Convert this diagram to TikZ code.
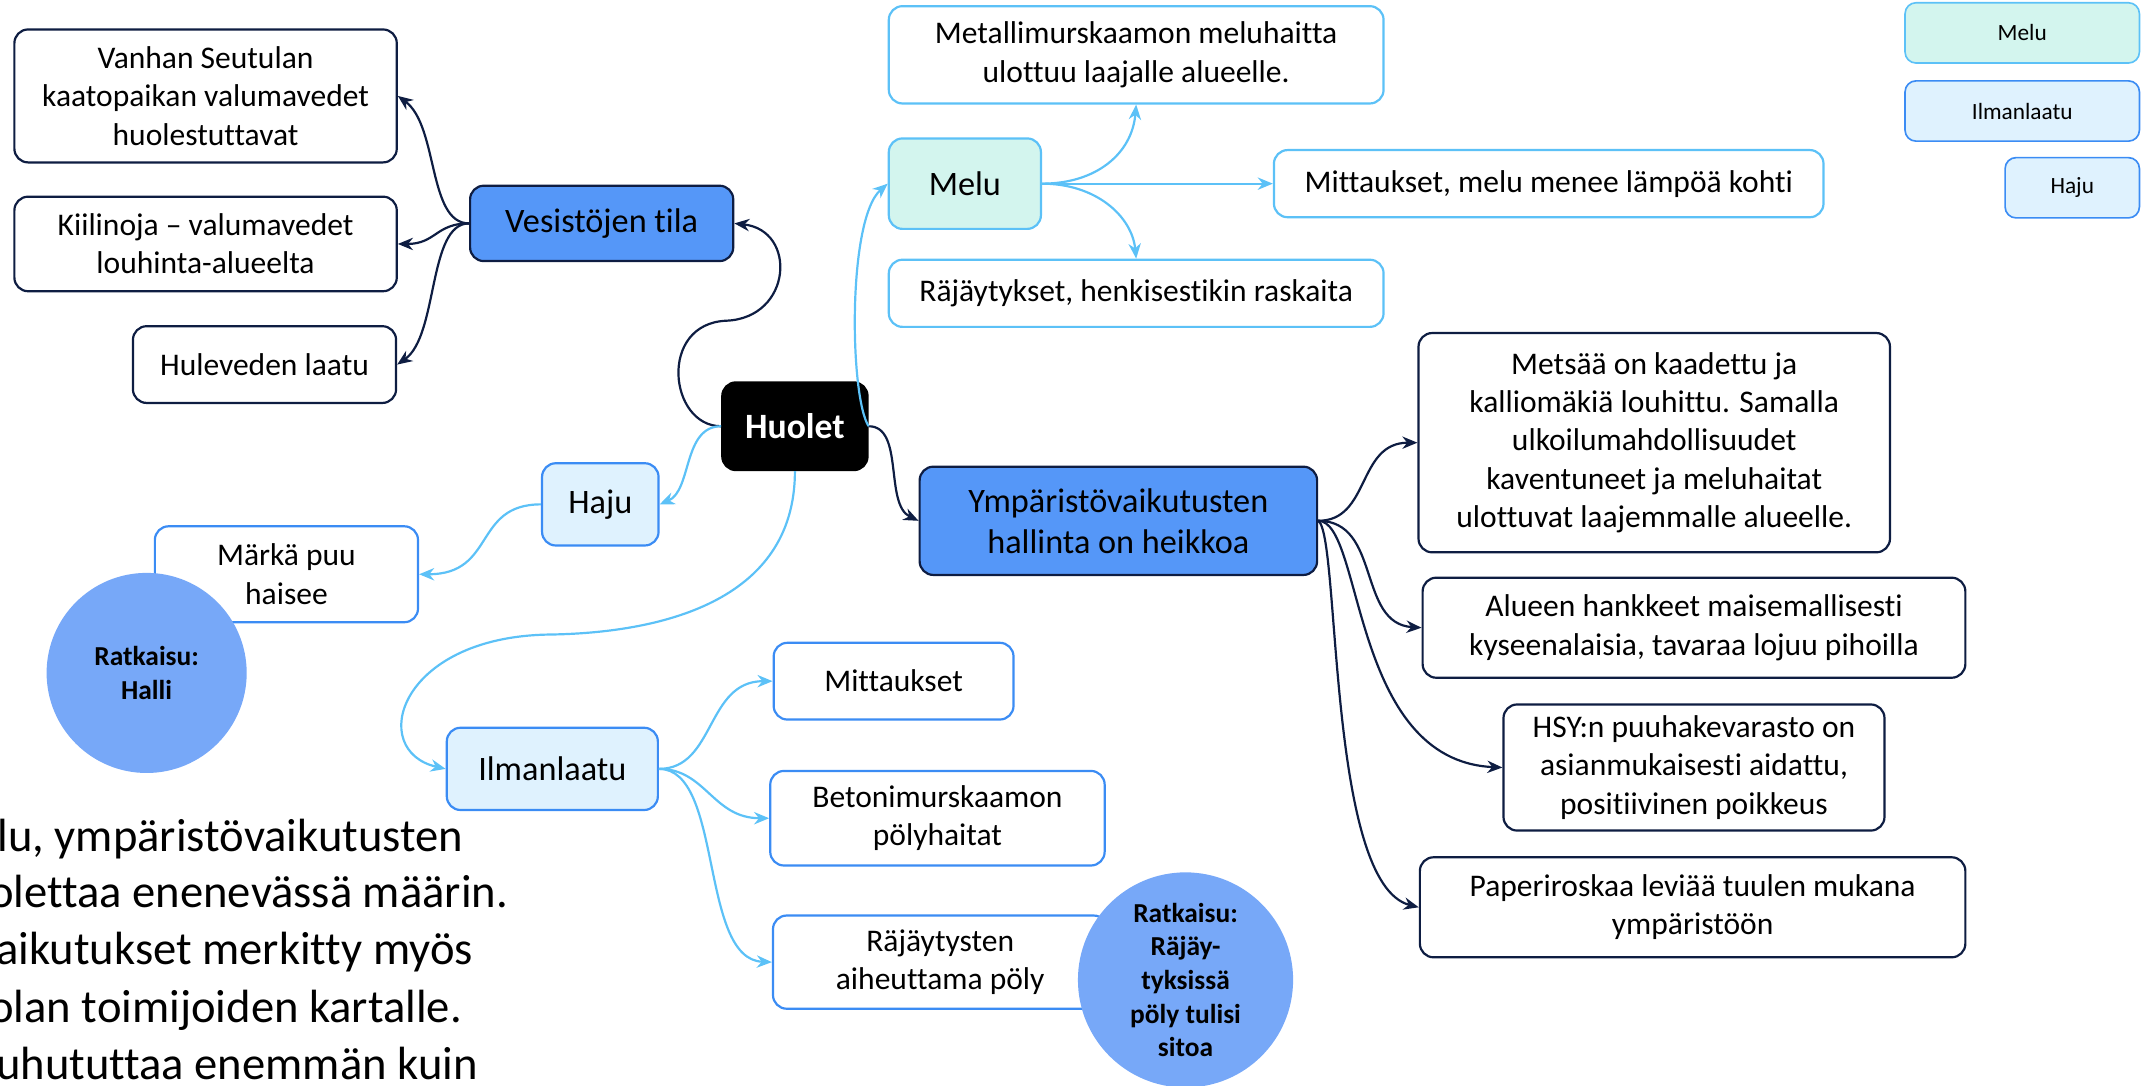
\documentclass[tikz,border=0pt]{standalone}
\usepackage{fontspec}
\setmainfont{Carlito}[Ligatures=NoCommon]
\usetikzlibrary{arrows.meta}
\definecolor{navy}{HTML}{0E1D42}
\definecolor{topicblue}{HTML}{5597F8}
\definecolor{ballblue}{HTML}{77A8F8}
\definecolor{mint}{HTML}{D3F5EE}
\definecolor{sky}{HTML}{5CC1F7}
\definecolor{ice}{HTML}{DFF2FE}
\definecolor{edgeblue}{HTML}{3B8CF4}
\tikzset{
	node_box/.style = {
		rectangle,
		rounded corners=10pt,
		align=center,
		inner sep=0pt,
		line width=1.6pt,
		font=\fontsize{23}{28}\selectfont
	},
	node_navy/.style = {
		node_box,
		draw=navy,
		fill=white
	},
	node_blue/.style = {
		node_box,
		draw=edgeblue,
		fill=white
	},
	node_sky/.style = {
		node_box,
		draw=sky,
		fill=white
	},
	node_topic/.style = {
		node_box,
		draw=navy,
		fill=topicblue,
		font=\fontsize{25}{30}\selectfont
	},
	node_ice/.style = {
		node_box,
		draw=edgeblue,
		fill=ice,
		font=\fontsize{25}{30}\selectfont
	},
	node_mint/.style = {
		node_box,
		draw=sky,
		fill=mint,
		font=\fontsize{25}{30}\selectfont
	},
	node_root/.style = {
		node_box,
		draw=black,
		fill=black,
		text=white,
		font=\fontsize{26}{30}\selectfont\bfseries
	},
	node_ball/.style = {
		circle,
		fill=ballblue,
		align=center,
		inner sep=0pt,
		font=\fontsize{20}{24.5}\selectfont\bfseries
	},
	node_key/.style = {
		node_box,
		line width=1.2pt,
		rounded corners=8pt,
		minimum height=44pt,
		font=\fontsize{17}{20}\selectfont
	},
	link_navy/.style = {->, draw=navy, line width=1.6pt},
	link_sky/.style = {->, draw=sky, line width=1.6pt},
}

\begin{document}
\begin{tikzpicture}[x=1pt, y=-1pt, >={Stealth[length=11pt,width=9pt]}]
\useasboundingbox (0,0) rectangle (1568,792);
\clip (0,0) rectangle (1568,792);

% center and topics
\node [node_root, minimum width=106pt, minimum height=64pt] (huolet) at (580,311) {Huolet};
\node [node_topic, minimum width=192pt, minimum height=55pt] (vesisto) at (439,163) {Vesistöjen tila};
\node [node_topic, minimum width=290pt, minimum height=79pt] (ymparisto) at (816,380) {Ympäristövaikutusten\\hallinta on heikkoa};
\node [node_mint, minimum width=111pt, minimum height=66pt] (melu) at (704,134) {Melu};
\node [node_ice, minimum width=85pt, minimum height=60pt] (haju) at (438,368) {Haju};
\node [node_ice, minimum width=154pt, minimum height=60pt] (ilma) at (403,561) {Ilmanlaatu};

% water
\node [node_navy, minimum width=279pt, minimum height=97pt] (kaatopaikka) at (150,70) {Vanhan Seutulan\\kaatopaikan valumavedet\\huolestuttavat};
\node [node_navy, minimum width=279pt, minimum height=69pt] (kiilinoja) at (150,178) {Kiilinoja – valumavedet\\louhinta-alueelta};
\node [node_navy, minimum width=192pt, minimum height=56pt] (hulevesi) at (193,266) {Huleveden laatu};

% noise
\node [node_sky, minimum width=361pt, minimum height=71pt] (murskaamo) at (829,40) {Metallimurskaamon meluhaitta\\ulottuu laajalle alueelle.};
\node [node_sky, minimum width=401pt, minimum height=49pt] (melumittaus) at (1130,134) {Mittaukset, melu menee lämpöä kohti};
\node [node_sky, minimum width=361pt, minimum height=49pt] (rajaytys) at (829,214) {Räjäytykset, henkisestikin raskaita};

% environment
\node [node_navy, minimum width=344pt, minimum height=160pt] (metsa) at (1207,323) {Metsää on kaadettu ja\\kalliomäkiä louhittu. Samalla\\ulkoilumahdollisuudet\\kaventuneet ja meluhaitat\\ulottuvat laajemmalle alueelle.};
\node [node_navy, minimum width=396pt, minimum height=73pt] (hankkeet) at (1236,458) {Alueen hankkeet maisemallisesti\\kyseenalaisia, tavaraa lojuu pihoilla};
\node [node_navy, minimum width=278pt, minimum height=92pt] (hsy) at (1236,560) {HSY:n puuhakevarasto on\\asianmukaisesti aidattu,\\positiivinen poikkeus};
\node [node_navy, minimum width=398pt, minimum height=73pt] (roskat) at (1235,662) {Paperiroskaa leviää tuulen mukana\\ympäristöön};

% smell
\node [node_blue, minimum width=192pt, minimum height=70pt] (markapuu) at (209,419) {Märkä puu\\haisee};
\node [node_ball, minimum size=146pt] (halli) at (107,491) {Ratkaisu:\\Halli};

% air
\node [node_blue, minimum width=175pt, minimum height=56pt] (ilmamittaus) at (652,497) {Mittaukset};
\node [node_blue, minimum width=244pt, minimum height=69pt] (betoni) at (684,597) {Betonimurskaamon\\pölyhaitat};
\node [node_blue, minimum width=244pt, minimum height=68pt] (poly) at (686,702) {Räjäytysten\\aiheuttama pöly};
\node [node_ball, minimum size=157pt] (sitoa) at (865,715) {Ratkaisu:\\Räjäy-\\tyksissä\\pöly tulisi\\sitoa};

% legend
\node [node_key, draw=sky, fill=mint, minimum width=171pt] (key_melu) at (1475.5,24) {Melu};
\node [node_key, draw=edgeblue, fill=ice, minimum width=171pt] (key_ilma) at (1475.5,81) {Ilmanlaatu};
\node [node_key, draw=edgeblue, fill=ice, minimum width=98pt] (key_haju) at (1512,137) {Haju};

% slide text behind
\foreach \x/\y/\line in {-2/621/{lu, ympäristövaikutusten}, -8/662/{olettaa enenevässä määrin.}, -3/704/{aikutukset merkitty myös}, -8/746/{olan toimijoiden kartalle.}, -3/788/{uhututtaa enemmän kuin}}
	\node [anchor=base west, inner sep=0pt, font=\fontsize{34}{42}\selectfont] at (\x,\y) {\line};

% navy links
\draw [link_navy] (huolet.west) .. controls (488,311) and (480,236) .. (530,234) .. controls (578,232) and (582,168) .. (vesisto.east);
\draw [link_navy] (vesisto.west) .. controls (312,163) and (320,92) .. (kaatopaikka.east);
\draw [link_navy] (vesisto.west) .. controls (318,163) and (318,178) .. (kiilinoja.east);
\draw [link_navy] (vesisto.west) .. controls (312,163) and (320,245) .. (hulevesi.east);
\draw [link_navy] (huolet.east) .. controls (660,311) and (645,368) .. (ymparisto.west);
\draw [link_navy] (ymparisto.east) .. controls (1000,380) and (990,323) .. (metsa.west);
\draw [link_navy] (ymparisto.east) .. controls (1008,380) and (990,455) .. (hankkeet.west);
\draw [link_navy] (ymparisto.east) .. controls (995,380) and (985,555) .. (hsy.west);
\draw [link_navy] (ymparisto.east) .. controls (978,390) and (968,645) .. (roskat.west);

% sky links
\draw [link_sky] (huolet.east) .. controls (620,290) and (618,160) .. (melu.west);
\draw [link_sky] (melu.east) .. controls (800,134) and (826,112) .. (murskaamo.south);
\draw [link_sky] (melu.east) -- (melumittaus.west);
\draw [link_sky] (melu.east) .. controls (800,134) and (826,158) .. (rajaytys.north);
\draw [link_sky] (huolet.west) .. controls (498,311) and (505,358) .. (haju.east);
\draw [link_sky] (haju.west) .. controls (345,368) and (362,419) .. (markapuu.east);
\draw [link_sky] (huolet.south) .. controls (580,440) and (480,462) .. (400,463) .. controls (290,465) and (268,548) .. (ilma.west);
\draw [link_sky] (ilma.east) .. controls (522,561) and (515,497) .. (ilmamittaus.west);
\draw [link_sky] (ilma.east) .. controls (515,561) and (520,597) .. (betoni.west);
\draw [link_sky] (ilma.east) .. controls (528,561) and (510,700) .. (poly.west);
\end{tikzpicture}
\end{document}
